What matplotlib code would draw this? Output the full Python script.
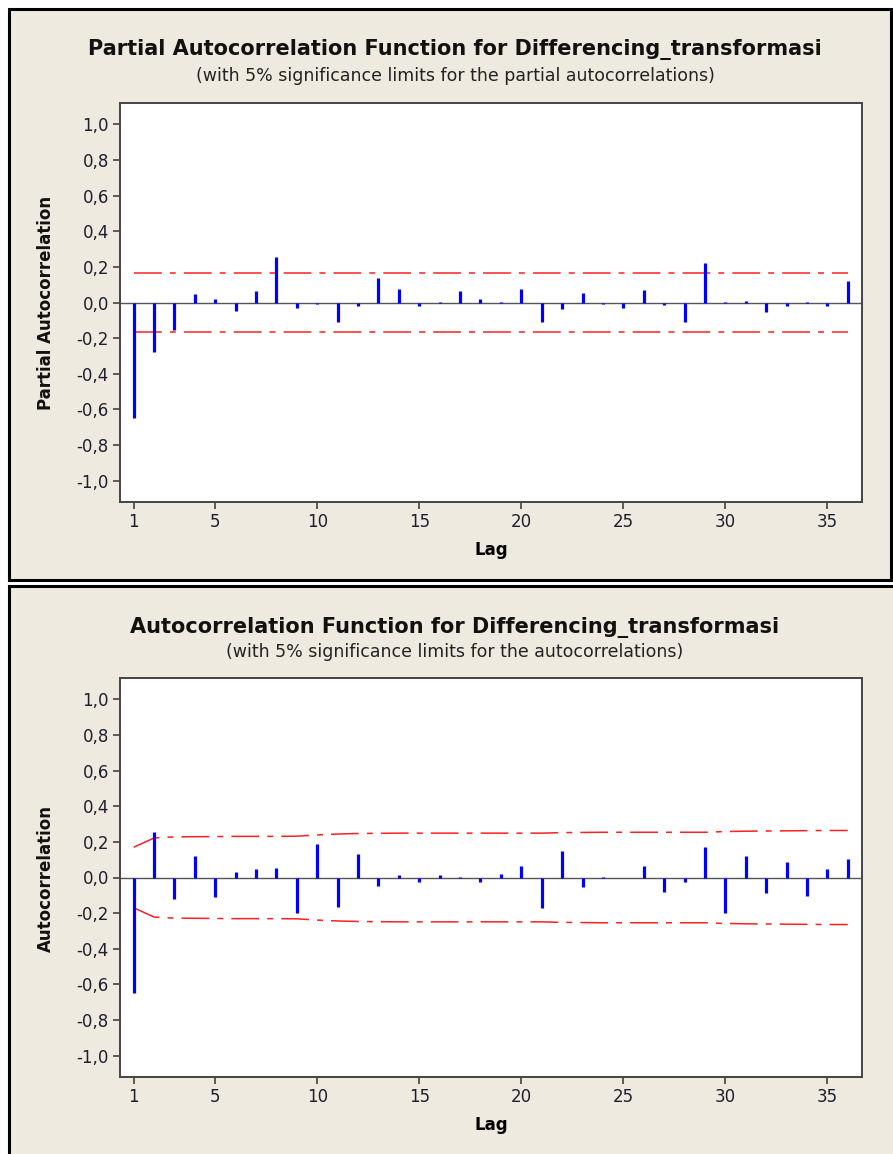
import matplotlib
matplotlib.use('Agg')
import matplotlib.pyplot as plt
from matplotlib.patches import Rectangle

# lags 1..36
lags = list(range(1, 37))

pacf_vals = [-0.648, -0.279, -0.157, 0.045, 0.019, -0.045, 0.062, 0.254, -0.030, -0.011,
             -0.112, -0.021, 0.135, 0.076, -0.021, 0.003, 0.062, 0.019, 0.004, 0.076,
             -0.112, -0.039, 0.052, -0.011, -0.030, 0.069, -0.015, -0.112, 0.221, 0.002,
             0.011, -0.056, -0.022, 0.003, -0.022, 0.120]
pacf_limit = [0.166] * 36

acf_vals = [-0.646, 0.255, -0.120, 0.122, -0.110, 0.030, 0.047, 0.054, -0.197, 0.189,
            -0.163, 0.131, -0.045, 0.013, -0.028, 0.013, 0.003, -0.028, 0.022, 0.064,
            -0.172, 0.148, -0.054, 0.002, -0.002, 0.064, -0.079, -0.028, 0.172, -0.197,
            0.122, -0.088, 0.088, -0.105, 0.047, 0.105]
acf_limit = [0.170, 0.222, 0.228, 0.229, 0.230, 0.231, 0.231, 0.231, 0.232, 0.239,
             0.244, 0.247, 0.248, 0.249, 0.249, 0.249, 0.249, 0.249, 0.249, 0.249,
             0.249, 0.252, 0.253, 0.254, 0.254, 0.254, 0.254, 0.254, 0.254, 0.258,
             0.260, 0.261, 0.262, 0.263, 0.264, 0.264]

yticks = [-1.0, -0.8, -0.6, -0.4, -0.2, 0.0, 0.2, 0.4, 0.6, 0.8, 1.0]
ytick_labels = ['-1,0', '-0,8', '-0,6', '-0,4', '-0,2', '0,0', '0,2', '0,4', '0,6', '0,8', '1,0']
xticks = [1, 5, 10, 15, 20, 25, 30, 35]

BG = '#EEEAE0'
W, H = 893, 1154
plt.rcParams['lines.scale_dashes'] = False
plt.rcParams['path.simplify'] = False

fig = plt.figure(figsize=(W / 100, H / 100), dpi=100, facecolor='white')


def px_rect(x0, y0, x1, y1):
    return [x0 / W, 1 - y1 / H, (x1 - x0) / W, (y1 - y0) / H]


# beige panels with black border (behind the axes)
for (x0, y0, x1, y1) in [(9, 9, 891, 580), (9, 586, 900, 1165)]:
    fig.patches.append(Rectangle((x0 / W, 1 - y1 / H), (x1 - x0) / W, (y1 - y0) / H,
                                 transform=fig.transFigure, facecolor=BG,
                                 edgecolor='black', linewidth=2.2, zorder=-5))


def draw_panel(rect, vals, limit, title, subtitle, ylabel, ty, sy, ly, yl_x):
    ax = fig.add_axes(rect)
    ax.set_zorder(2)
    ax.set_facecolor('white')
    ax.axhline(0, color='#555555', linewidth=1.0, zorder=1)
    ax.vlines(lags, 0, vals, colors='#0000FF', linewidth=2.3, capstyle='butt', zorder=3)
    dash = (0, (20, 5.8, 4.3, 5.8))
    ax.plot(lags, limit, color='#FF2020', linewidth=1.1, linestyle=dash, zorder=2)
    ax.plot(lags, [-v for v in limit], color='#FF2020', linewidth=1.1, linestyle=dash, zorder=2)
    ax.set_xlim(0.33, 36.7)
    ax.set_ylim(-1.12, 1.12)
    ax.set_yticks(yticks)
    ax.set_yticklabels(ytick_labels)
    ax.set_xticks(xticks)
    ax.tick_params(direction='out', length=5, width=1.1, color='#333333',
                   labelsize=12, labelcolor='#1e1e2e', pad=3)
    for s in ax.spines.values():
        s.set_color('#444444')
        s.set_linewidth(1.4)
    ax.set_xlabel('Lag', fontsize=12, fontweight='bold', labelpad=7)
    fig.text(455 / W, 1 - ty / H, title, ha='center', va='center',
             fontsize=15, fontweight='bold', color='#111111', zorder=3)
    fig.text(455 / W, 1 - sy / H, subtitle, ha='center', va='center',
             fontsize=12.5, color='#222222', zorder=3)
    fig.text(yl_x / W, 1 - ly / H, ylabel, ha='center', va='center', rotation=90,
             fontsize=12, fontweight='bold', color='#111111', zorder=3)
    return ax


draw_panel(px_rect(120, 103, 862, 502), pacf_vals, pacf_limit,
           'Partial Autocorrelation Function for Differencing_transformasi',
           '(with 5% significance limits for the partial autocorrelations)',
           'Partial Autocorrelation', 50, 76, 303, 46)
draw_panel(px_rect(120, 678, 862, 1077), acf_vals, acf_limit,
           'Autocorrelation Function for Differencing_transformasi',
           '(with 5% significance limits for the autocorrelations)',
           'Autocorrelation', 627, 652, 878, 46)

plt.savefig('out.png', dpi=100, facecolor='white')
